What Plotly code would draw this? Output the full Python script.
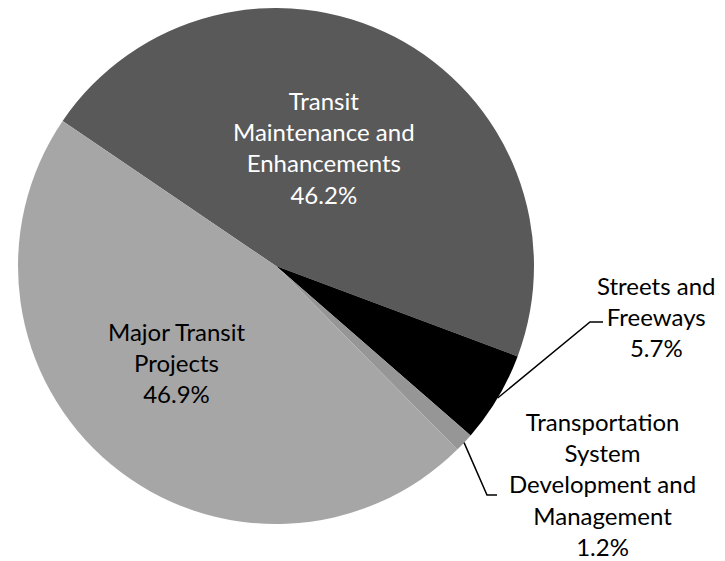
import math
import plotly.graph_objects as go

# ---- data ----
labels = ["Transit Maintenance and Enhancements", "Streets and Freeways",
          "Transportation System Development and Management", "Major Transit Projects"]
label_lines = [["Transit", "Maintenance and", "Enhancements"],
               ["Streets and", "Freeways"],
               ["Transportation", "System", "Development and", "Management"],
               ["Major Transit", "Projects"]]
values = [46.2, 5.7, 1.2, 46.9]
colors = ["#595959", "#000000", "#969696", "#a6a6a6"]

W, H = 725, 561
OFF = 8  # page body margin in the browser
CX, CY, R = 276, 266, 258  # target pixel positions in the window
ROT = 304.2  # degrees clockwise from 12 o'clock

def px(x, y):
    return (x - OFF) / W, 1 - (y - OFF) / H

x0, y0 = px(CX - R, CY + R)
x1, y1 = px(CX + R, CY - R)
clamp = lambda v: max(0.0, min(1.0, v))

fig = go.Figure(go.Pie(
    labels=labels, values=values, sort=False, direction="clockwise",
    rotation=ROT, marker=dict(colors=colors, line=dict(width=0)),
    textinfo="none", hoverinfo="label+percent",
    domain=dict(x=[clamp(x0), clamp(x1)], y=[clamp(y0), clamp(y1)]),
))

# label placement (pixel centres) and text colours
label_pos = [(324, 148), (656, 316), (602, 484), (176, 362)]
label_col = ["white", "black", "black", "black"]
FONT = "Lato, 'Open Sans', sans-serif"

annotations = []
for lines, v, (lx, ly), c in zip(label_lines, values, label_pos, label_col):
    x, y = px(lx, ly)
    annotations.append(dict(text="<br>".join(lines + [f"{v}%"]), x=x, y=y,
                            xref="paper", yref="paper", showarrow=False,
                            xanchor="center", yanchor="middle", align="center",
                            font=dict(family=FONT, size=24, color=c)))

# leader lines from slice mid-points on the rim
total = sum(values)
cum = 0
mids = []
for v in values:
    mids.append(ROT + (cum + v / 2) / total * 360)
    cum += v

elbows = {1: [(590, 322), (603, 322)], 2: [(487, 495), (497, 495)]}
shapes = []
for i, pts in elbows.items():
    a = math.radians(mids[i])
    sx, sy = CX + R * math.sin(a), CY - R * math.cos(a)
    path_pts = [(sx, sy)] + pts
    path = "M " + " L ".join(f"{px(x, y)[0]},{px(x, y)[1]}" for x, y in path_pts)
    shapes.append(dict(type="path", path=path, xref="paper", yref="paper",
                       line=dict(color="black", width=1.5)))

fig.update_layout(width=W, height=H, margin=dict(l=0, r=0, t=0, b=0),
                  paper_bgcolor="white", plot_bgcolor="white", showlegend=False,
                  annotations=annotations, shapes=shapes)
fig.write_html("out.html")
